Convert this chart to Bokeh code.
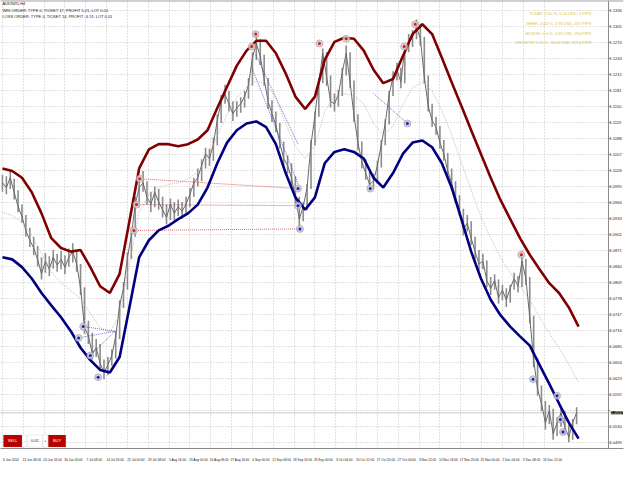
from bokeh.plotting import figure
from bokeh.models import FixedTicker, Label, BoxAnnotation, Span, NumeralTickFormatter
from bokeh.embed import file_html
from bokeh.resources import INLINE

# ---------------- data ----------------
bars = list(range(0, 883, 6))
close = [1.1002, 1.0993, 1.1012, 1.0984, 1.0956, 1.0937, 1.0910, 1.0891, 1.0876, 1.0854,
         1.0826, 1.0850, 1.0835, 1.0858, 1.0843, 1.0854, 1.0839, 1.0858, 1.0869, 1.0845,
         1.0798, 1.0724, 1.0705, 1.0672, 1.0683, 1.0653, 1.0635, 1.0650, 1.0668, 1.0705,
         1.0765, 1.0798, 1.0858, 1.0900, 1.0961, 1.0993, 1.1002, 1.0974, 1.0961, 1.0984,
         1.0965, 1.0950, 1.0935, 1.0961, 1.0943, 1.0956, 1.0947, 1.0961, 1.0980, 1.1002,
         1.1012, 1.1036, 1.1058, 1.1049, 1.1077, 1.1123, 1.1160, 1.1173, 1.1155, 1.1136,
         1.1147, 1.1155, 1.1169, 1.1192, 1.1244, 1.1272, 1.1247, 1.1203, 1.1160, 1.1136,
         1.1114, 1.1080, 1.1049, 1.1036, 1.1012, 1.0974, 1.0932, 1.0956, 1.0993, 1.1077,
         1.1132, 1.1197, 1.1253, 1.1207, 1.1160, 1.1155, 1.1173, 1.1216, 1.1253, 1.1197,
         1.1132, 1.1080, 1.1043, 1.1021, 1.0999, 1.1006, 1.1036, 1.1077, 1.1117, 1.1173,
         1.1207, 1.1221, 1.1197, 1.1262, 1.1272, 1.1285, 1.1303, 1.1281, 1.1207, 1.1151,
         1.1123, 1.1110, 1.1080, 1.1058, 1.1025, 1.1002, 1.0974, 1.0950, 1.0913, 1.0924,
         1.0895, 1.0869, 1.0845, 1.0850, 1.0813, 1.0798, 1.0813, 1.0780, 1.0794, 1.0776,
         1.0798, 1.0817, 1.0802, 1.0850, 1.0817, 1.0742, 1.0659, 1.0603, 1.0575, 1.0538,
         1.0561, 1.0516, 1.0538, 1.0557, 1.0529, 1.0510, 1.0538, 1.0557]
high = [1.1018, 1.1015, 1.1025, 1.1010, 1.0988, 1.0960, 1.0940, 1.0915, 1.0898, 1.0880,
        1.0858, 1.0866, 1.0860, 1.0872, 1.0865, 1.0870, 1.0862, 1.0875, 1.0885, 1.0872,
        1.0845, 1.0800, 1.0735, 1.0712, 1.0700, 1.0690, 1.0660, 1.0665, 1.0680, 1.0715,
        1.0775, 1.0810, 1.0868, 1.0915, 1.0975, 1.1010, 1.1025, 1.1005, 1.0985, 1.0995,
        1.0990, 1.0975, 1.0960, 1.0972, 1.0965, 1.0970, 1.0965, 1.0975, 1.0992, 1.1012,
        1.1030, 1.1048, 1.1070, 1.1068, 1.1090, 1.1135, 1.1172, 1.1192, 1.1180, 1.1160,
        1.1160, 1.1168, 1.1180, 1.1205, 1.1255, 1.1290, 1.1280, 1.1250, 1.1205, 1.1162,
        1.1140, 1.1118, 1.1082, 1.1055, 1.1040, 1.1015, 1.0975, 1.0965, 1.1000, 1.1085,
        1.1140, 1.1205, 1.1262, 1.1255, 1.1210, 1.1175, 1.1182, 1.1225, 1.1268, 1.1255,
        1.1200, 1.1135, 1.1082, 1.1048, 1.1025, 1.1020, 1.1045, 1.1085, 1.1125, 1.1180,
        1.1218, 1.1235, 1.1225, 1.1270, 1.1290, 1.1298, 1.1318, 1.1310, 1.1285, 1.1210,
        1.1155, 1.1130, 1.1112, 1.1085, 1.1060, 1.1030, 1.1005, 1.0978, 1.0952, 1.0940,
        1.0928, 1.0898, 1.0872, 1.0865, 1.0852, 1.0820, 1.0825, 1.0815, 1.0805, 1.0798,
        1.0805, 1.0828, 1.0822, 1.0870, 1.0855, 1.0820, 1.0745, 1.0662, 1.0610, 1.0580,
        1.0572, 1.0565, 1.0548, 1.0565, 1.0560, 1.0535, 1.0545, 1.0568]
low = [1.0985, 1.0980, 1.0990, 1.0970, 1.0945, 1.0925, 1.0898, 1.0878, 1.0862, 1.0840,
       1.0815, 1.0828, 1.0822, 1.0836, 1.0830, 1.0835, 1.0825, 1.0840, 1.0848, 1.0830,
       1.0785, 1.0710, 1.0690, 1.0660, 1.0665, 1.0640, 1.0622, 1.0630, 1.0648, 1.0662,
       1.0700, 1.0760, 1.0795, 1.0855, 1.0898, 1.0955, 1.0985, 1.0960, 1.0945, 1.0955,
       1.0950, 1.0935, 1.0922, 1.0930, 1.0930, 1.0938, 1.0932, 1.0942, 1.0955, 1.0975,
       1.0995, 1.1005, 1.1030, 1.1035, 1.1045, 1.1075, 1.1118, 1.1155, 1.1140, 1.1122,
       1.1130, 1.1138, 1.1148, 1.1165, 1.1190, 1.1240, 1.1230, 1.1190, 1.1145, 1.1120,
       1.1100, 1.1068, 1.1035, 1.1020, 1.0998, 1.0960, 1.0915, 1.0928, 1.0950, 1.0990,
       1.1075, 1.1130, 1.1195, 1.1190, 1.1148, 1.1140, 1.1150, 1.1170, 1.1210, 1.1185,
       1.1120, 1.1065, 1.1030, 1.1008, 1.0985, 1.0990, 1.1000, 1.1032, 1.1075, 1.1115,
       1.1170, 1.1200, 1.1185, 1.1195, 1.1255, 1.1265, 1.1280, 1.1268, 1.1195, 1.1140,
       1.1110, 1.1095, 1.1068, 1.1045, 1.1012, 1.0990, 1.0962, 1.0938, 1.0900, 1.0908,
       1.0882, 1.0855, 1.0832, 1.0835, 1.0800, 1.0785, 1.0795, 1.0768, 1.0775, 1.0762,
       1.0770, 1.0795, 1.0790, 1.0800, 1.0805, 1.0730, 1.0645, 1.0590, 1.0560, 1.0525,
       1.0535, 1.0505, 1.0512, 1.0530, 1.0515, 1.0500, 1.0505, 1.0535]

band_bars = list(range(0, 886, 15))
upper = [1.1030, 1.1025, 1.1012, 1.0984, 1.0943, 1.0895, 1.0876, 1.0869, 1.0872, 1.0839,
         1.0802, 1.0789, 1.0826, 1.0928, 1.1030, 1.1067, 1.1077, 1.1077, 1.1073, 1.1077,
         1.1086, 1.1104, 1.1147, 1.1188, 1.1229, 1.1258, 1.1277, 1.1277, 1.1253, 1.1214,
         1.1169, 1.1145, 1.1169, 1.1240, 1.1275, 1.1283, 1.1281, 1.1258, 1.1221, 1.1195,
         1.1203, 1.1247, 1.1290, 1.1309, 1.1290, 1.1244, 1.1197, 1.1151, 1.1104, 1.1058,
         1.1012, 1.0969, 1.0932, 1.0895, 1.0863, 1.0835, 1.0808, 1.0789, 1.0761, 1.0724]
lower = [1.0858, 1.0854, 1.0839, 1.0817, 1.0789, 1.0765, 1.0742, 1.0715, 1.0683, 1.0659,
         1.0640, 1.0635, 1.0665, 1.0761, 1.0858, 1.0891, 1.0910, 1.0919, 1.0932, 1.0943,
         1.0960, 1.0993, 1.1040, 1.1080, 1.1104, 1.1117, 1.1121, 1.1110, 1.1077, 1.1021,
         1.0974, 1.0950, 1.0974, 1.1040, 1.1062, 1.1067, 1.1062, 1.1049, 1.1012, 1.0993,
         1.1021, 1.1058, 1.1080, 1.1084, 1.1071, 1.1040, 1.0993, 1.0932, 1.0869, 1.0817,
         1.0776, 1.0746, 1.0724, 1.0705, 1.0687, 1.0650, 1.0613, 1.0575, 1.0538, 1.0507]
middle = [1.0945, 1.0939, 1.0926, 1.0900, 1.0867, 1.0830, 1.0809, 1.0793, 1.0778, 1.0750,
          1.0722, 1.0713, 1.0746, 1.0845, 1.0945, 1.0980, 1.0993, 1.0999, 1.1002, 1.1010,
          1.1023, 1.1049, 1.1093, 1.1134, 1.1167, 1.1188, 1.1199, 1.1193, 1.1166, 1.1117,
          1.1073, 1.1049, 1.1073, 1.1140, 1.1169, 1.1175, 1.1171, 1.1155, 1.1117, 1.1095,
          1.1112, 1.1153, 1.1186, 1.1197, 1.1180, 1.1142, 1.1095, 1.1041, 1.0988, 1.0937,
          1.0895, 1.0858, 1.0828, 1.0800, 1.0776, 1.0742, 1.0711, 1.0683, 1.0650, 1.0616]

# trade history: open bar/price -> close bar/price, colour by order type
trade_open_bar = [124, 117, 135, 211, 206, 202, 389, 383, 570]
trade_open_px = [1.0724, 1.0702, 1.0668, 1.1010, 1.0960, 1.0910, 1.1250, 1.1225, 1.1175]
trade_close_bar = [173, 173, 173, 454, 454, 457, 454, 457, 622]
trade_close_px = [1.0715, 1.0715, 1.0715, 1.0991, 1.0958, 1.0913, 1.1077, 1.0991, 1.1117]
trade_color = ["#3030c0", "#3030c0", "#3030c0", "#c03030", "#c03030", "#c03030",
               "#3030c0", "#3030c0", "#3030c0"]

buy_bar = [117, 124, 135, 147, 454, 454, 457, 565, 622, 815, 852, 857, 861]
buy_px = [1.0702, 1.0724, 1.0668, 1.0626, 1.0958, 1.0991, 1.0913, 1.0991, 1.1117,
          1.0622, 1.0590, 1.0544, 1.0520]
sell_bar = [202, 206, 211, 383, 389, 487, 528, 617, 634, 797]
sell_px = [1.0910, 1.0960, 1.1010, 1.1266, 1.1290, 1.1272, 1.1281, 1.1266, 1.1309, 1.0863]

price_ticks = [1.1336, 1.1305, 1.1274, 1.1243, 1.1212, 1.1181, 1.1150, 1.1119, 1.1088,
               1.1057, 1.1026, 1.0995, 1.0964, 1.0933, 1.0902, 1.0871, 1.0840, 1.0809,
               1.0778, 1.0747, 1.0716, 1.0685, 1.0654, 1.0623, 1.0592, 1.0561, 1.0530,
               1.0499]
current_price = 1.0557

date_bars = [0, 32, 64, 96, 128, 160, 192, 224, 256, 288, 320, 352, 384, 416,
             448, 480, 512, 544, 576, 608, 640, 672, 704, 736, 768, 800, 832]
date_labels = ["6 Jun 2014", "13 Jun 08:00", "20 Jun 16:00", "30 Jun 00:00", "7 Jul 08:00",
               "14 Jul 16:00", "22 Jul 00:00", "29 Jul 08:00", "5 Aug 16:00", "13 Aug 00:00",
               "20 Aug 08:00", "27 Aug 16:00", "4 Sep 00:00", "11 Sep 08:00", "18 Sep 16:00",
               "26 Sep 00:00", "3 Oct 04:00", "10 Oct 12:00", "17 Oct 20:00", "27 Oct 04:00",
               "3 Nov 12:00", "10 Nov 16:00", "17 Nov 20:00", "25 Nov 00:00", "2 Dec 04:00",
               "9 Dec 08:00", "16 Dec 12:00"]

title_lines = ["AUDNZD,H4",
               "WIN ORDER: TYPE 0, TICKET 17, PROFIT 5.21, LOT 0.01",
               "LOSS ORDER: TYPE 0, TICKET 14, PROFIT -4.74, LOT 0.01"]
stats_lines = ["TODAY: 0.00 %, 0.00 USD, 0 PIPS",
               "WEEK: 0.00 %, 2.36 USD, 497 PIPS",
               "MONTH: 0.0 %, 3.45 USD, 394 PIPS",
               "GROWTH: 1.16 %, 34.49 USD, 8214 PIPS"]

# ---------------- figure ----------------
FONT = "Liberation Sans"
W, H = 624, 464
BOTTOM = 13
FW, FH = W, H - BOTTOM
AXIS_BAR = 931          # chart/price-scale separator (bar units)

p = figure(width=W, height=H, x_range=(-3, 954), y_range=(1.0488, 1.1355),
           output_backend="svg", toolbar_location=None, y_axis_location="right",
           min_border_left=0, min_border_top=0, min_border_right=0,
           min_border_bottom=BOTTOM)
p.background_fill_color = "white"
p.border_fill_color = "white"
p.outline_line_color = None

label_offset = 13
p.xaxis.ticker = FixedTicker(ticks=[b + label_offset for b in date_bars])
p.xaxis.major_label_overrides = {b + label_offset: t for b, t in zip(date_bars, date_labels)}
p.xgrid.ticker = FixedTicker(ticks=date_bars)
p.yaxis.ticker = FixedTicker(ticks=[t for t in price_ticks if abs(t - current_price) > 0.001])
p.ygrid.ticker = FixedTicker(ticks=price_ticks)
p.yaxis.formatter = NumeralTickFormatter(format="0.0000")

for ax in (p.xaxis[0], p.yaxis[0]):
    ax.major_label_text_font = FONT
    ax.major_label_text_color = "#202020"
    ax.minor_tick_line_color = None
    ax.major_tick_line_color = None
p.xaxis.axis_line_color = "#8a8a8a"
p.xaxis.major_label_text_font_size = "3.2px"
p.xaxis.major_label_standoff = 3
# price scale drawn inside the right strip of the frame (MT4 style)
p.yaxis.axis_line_color = None
p.yaxis.major_tick_out = 0
p.yaxis.major_tick_in = 0
p.yaxis.major_label_text_font_size = "4px"
p.yaxis.major_label_standoff = -14

for g in (p.xgrid[0], p.ygrid[0]):
    g.grid_line_color = "#c4c4c4"
    g.grid_line_dash = "1 2"
    g.grid_line_width = 1

# keep the price-scale strip clean of grid lines
p.add_layout(BoxAnnotation(left=AXIS_BAR, fill_color="white", fill_alpha=1, line_color=None,
                           level="underlay"))
# separator line and tick marks of the price scale
p.add_layout(Span(location=AXIS_BAR, dimension="height", line_color="#8a8a8a", line_width=1))
p.segment(x0=[AXIS_BAR] * len(price_ticks), y0=price_ticks,
          x1=[AXIS_BAR + 3] * len(price_ticks), y1=price_ticks,
          line_color="#8a8a8a", line_width=1)
# top border
p.add_layout(Span(location=1.1355, dimension="width", line_color="#a0a0a0", line_width=2))

# bid line
p.segment(x0=[-3], y0=[current_price], x1=[AXIS_BAR], y1=[current_price],
          line_color="#c8c8c8", line_width=1)

# price bars (high-low) and close line
p.segment(x0=bars, y0=low, x1=bars, y1=high, line_color="#8c8c8c", line_width=1.6)
p.line(bars, close, line_color="#6a6a6a", line_width=1)

# middle line
p.line(band_bars, middle, line_color="#c9a8a8", line_width=0.8, line_dash="1 1")

# trade connection lines
p.segment(x0=trade_open_bar, y0=trade_open_px, x1=trade_close_bar, y1=trade_close_px,
          line_color=trade_color, line_width=0.7, line_dash="1 1")

# bands
p.line(band_bars, upper, line_color="#800000", line_width=2.6)
p.line(band_bars, lower, line_color="#000080", line_width=2.6)

# trade markers
p.scatter(buy_bar, buy_px, size=7, fill_color="#c8c8d4", fill_alpha=0.85, line_color="#9a9aaa",
          line_width=0.6)
p.scatter(buy_bar, buy_px, size=3, fill_color="#2020c0", line_color=None)
p.scatter(sell_bar, sell_px, size=7, fill_color="#d8c8c8", fill_alpha=0.85,
          line_color="#b09a9a", line_width=0.6)
p.scatter(sell_bar, sell_px, size=3, fill_color="#d02020", line_color=None)

sx = FW / 640.0
sy = FH / 467.0

# current price box on the price scale
p.add_layout(Label(x=626 * sx, y=current_price, x_units="screen", y_units="data",
                   text="1.0557", text_font=FONT, text_font_size="4px", text_color="white",
                   text_baseline="middle", background_fill_color="black"))

# top-left texts
for txt, yref in zip(title_lines, [6.5, 13.5, 19.5]):
    p.add_layout(Label(x=2 * sx, y=(467 - yref) * sy, x_units="screen", y_units="screen",
                       text=txt, text_font=FONT, text_font_size="4px", text_color="#202020",
                       text_baseline="middle"))
# top-right stats
for txt, yref in zip(stats_lines, [17, 27, 37, 47]):
    p.add_layout(Label(x=606 * sx, y=(467 - yref) * sy, x_units="screen", y_units="screen",
                       text=txt, text_font=FONT, text_font_size="4px", text_color="#d8c440",
                       text_align="right", text_baseline="middle"))

# trading panel buttons
buttons = [(3, 22, "SELL", "#b80000", "white"), (22.5, 27, "-", "white", "#202020"),
           (27.5, 43, "0.01", "white", "#202020"), (43.5, 48, "+", "white", "#202020"),
           (49, 67, "BUY", "#b80000", "white")]
for l, r, txt, fill, tc in buttons:
    p.add_layout(BoxAnnotation(left=l * sx, right=r * sx, top=(467 - 453) * sy,
                               bottom=(467 - 465.5) * sy, left_units="screen",
                               right_units="screen", top_units="screen", bottom_units="screen",
                               fill_color=fill, fill_alpha=1, line_color="#909090",
                               line_width=0.5))
    p.add_layout(Label(x=(l + r) / 2 * sx, y=(467 - 459.2) * sy, x_units="screen",
                       y_units="screen", text=txt, text_font=FONT, text_font_size="4px",
                       text_color=tc, text_align="center", text_baseline="middle"))

open("out.html", "w").write(file_html(p, INLINE))
